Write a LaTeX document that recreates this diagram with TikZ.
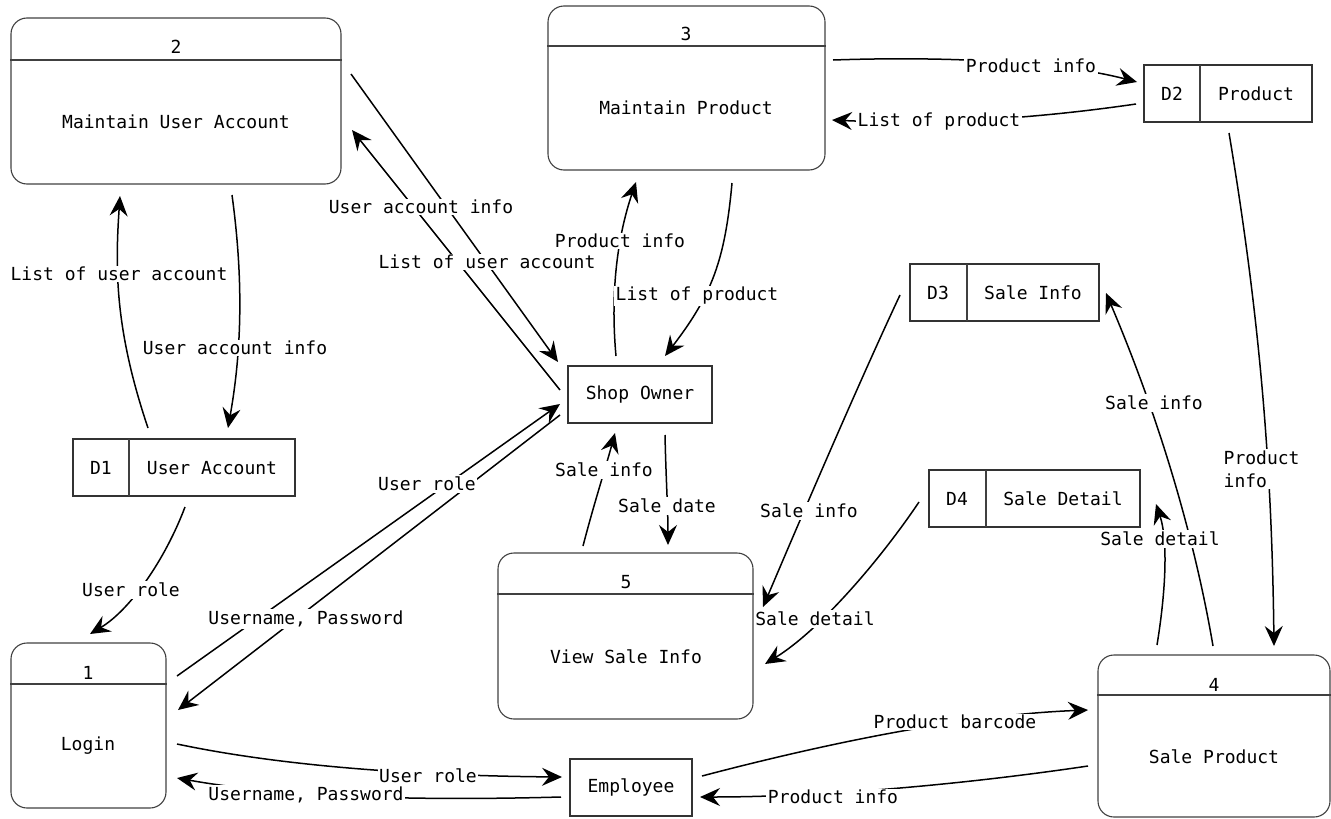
\documentclass[tikz,border=0pt]{standalone}
\usepackage{fontspec}
\setmainfont{DejaVu Sans Mono}
\usetikzlibrary{arrows.meta}
\tikzset{
  x=1pt, y=-1pt,
  every node/.style={font=\fontsize{18}{21}\selectfont, text=black},
  proc/.style={draw=black!75, line width=1.1pt, rounded corners=16pt, inner sep=0pt},
  store/.style={draw=black!80, line width=1.1pt, inner sep=0pt},
  ent/.style={draw=black!80, line width=1.1pt, inner sep=0pt},
  divline/.style={draw=black!75, line width=1.1pt},
  txt/.style={inner sep=0pt},
  flow/.style={draw=black, line width=1.5pt, -{Stealth[length=20pt,width=18pt,inset=7pt]}},
  lbl/.style={fill=white, inner sep=1.5pt},
}
\begin{document}
\begin{tikzpicture}
\useasboundingbox (0,0) rectangle (1331,819);

% ---------- processes ----------
\node[proc, minimum width=330pt, minimum height=166pt] (p2) at (176,101) {};
\draw[divline] (p2.west |- 0,60) -- (p2.east |- 0,60);
\node[txt] (p2n) at (176,47) {2};
\node[txt] (p2t) at (176,122) {Maintain User Account};

\node[proc, minimum width=277pt, minimum height=164pt] (p3) at (686.5,88) {};
\draw[divline] (p3.west |- 0,46) -- (p3.east |- 0,46);
\node[txt] (p3n) at (686,34) {3};
\node[txt] (p3t) at (686,108) {Maintain Product};

\node[proc, minimum width=155pt, minimum height=165pt] (p1) at (88.5,725.5) {};
\draw[divline] (p1.west |- 0,684) -- (p1.east |- 0,684);
\node[txt] (p1n) at (88,673) {1};
\node[txt] (p1t) at (88,746) {Login};

\node[proc, minimum width=255pt, minimum height=166pt] (p5) at (625.5,636) {};
\draw[divline] (p5.west |- 0,594) -- (p5.east |- 0,594);
\node[txt] (p5n) at (626,582) {5};
\node[txt] (p5t) at (626,657) {View Sale Info};

\node[proc, minimum width=232pt, minimum height=162pt] (p4) at (1214,736) {};
\draw[divline] (p4.west |- 0,695) -- (p4.east |- 0,695);
\node[txt] (p4n) at (1214,685) {4};
\node[txt] (p4t) at (1214,757) {Sale Product};

% ---------- data stores ----------
\node[store, minimum width=222pt, minimum height=57pt] (d1) at (184,467.5) {};
\draw[divline] (129,439) -- (129,496);
\node[txt] (d1n) at (101,468) {D1};
\node[txt] (d1t) at (212,468) {User Account};

\node[store, minimum width=168pt, minimum height=57pt] (d2) at (1228,93.5) {};
\draw[divline] (1200,65) -- (1200,122);
\node[txt] (d2n) at (1172,94) {D2};
\node[txt] (d2t) at (1256,94) {Product};

\node[store, minimum width=189pt, minimum height=57pt] (d3) at (1004.5,292.5) {};
\draw[divline] (967,264) -- (967,321);
\node[txt] (d3n) at (938,293) {D3};
\node[txt] (d3t) at (1033,293) {Sale Info};

\node[store, minimum width=211pt, minimum height=57pt] (d4) at (1034.5,498.5) {};
\draw[divline] (986,470) -- (986,527);
\node[txt] (d4n) at (957,499) {D4};
\node[txt] (d4t) at (1063,499) {Sale Detail};

% ---------- external entities ----------
\node[ent, minimum width=144pt, minimum height=57pt] (own) at (640,394.5) {Shop Owner};
\node[ent, minimum width=122pt, minimum height=57pt] (emp) at (631,787.5) {Employee};

% ---------- connector end points ----------
\coordinate (c1s) at (351,74);   \coordinate (c1e) at (558,362);
\coordinate (c2s) at (560,390);  \coordinate (c2e) at (352,130);
\coordinate (c3s) at (616,356);  \coordinate (c3e) at (636,182);
\coordinate (c4s) at (732,183);  \coordinate (c4e) at (665,356);
\coordinate (c5s) at (833,60);   \coordinate (c5e) at (1137,82);
\coordinate (c6s) at (1136,104); \coordinate (c6e) at (832,120);
\coordinate (c7s) at (1229,133); \coordinate (c7e) at (1274,646);
\coordinate (c8s) at (1213,646); \coordinate (c8e) at (1106,293);
\coordinate (c9s) at (1157,645); \coordinate (c9e) at (1156,504);
\coordinate (c10s) at (900,295); \coordinate (c10e) at (763,607);
\coordinate (c11s) at (919,502); \coordinate (c11e) at (765,664);
\coordinate (c12s) at (665,435); \coordinate (c12e) at (668,545);
\coordinate (c13s) at (583,546); \coordinate (c13e) at (615,433);
\coordinate (c14s) at (185,507); \coordinate (c14e) at (90,634);
\coordinate (c15s) at (232,195); \coordinate (c15e) at (228,428);
\coordinate (c16s) at (148,428); \coordinate (c16e) at (120,196);
\coordinate (c17s) at (177,676); \coordinate (c17e) at (560,404);
\coordinate (c18s) at (560,415); \coordinate (c18e) at (178,710);
\coordinate (c19s) at (177,744); \coordinate (c19e) at (562,777);
\coordinate (c20s) at (561,797); \coordinate (c20e) at (177,778);
\coordinate (c21s) at (702,776); \coordinate (c21e) at (1088,710);
\coordinate (c22s) at (1088,766); \coordinate (c22e) at (700,797);

% ---------- connectors ----------
\draw[flow] (c1s) -- (c1e);
\draw[flow] (c2s) -- (c2e);
\draw[flow] (c3s) .. controls (610,290) and (618,235) .. (c3e);
\draw[flow] (c4s) .. controls (725,260) and (712,295) .. (c4e);
\draw[flow] (c5s) .. controls (950,56) and (1060,62) .. (c5e);
\draw[flow] (c6s) .. controls (1040,118) and (940,125) .. (c6e);
\draw[flow] (c7s) .. controls (1262,330) and (1272,480) .. (c7e);
\draw[flow] (c8s) .. controls (1195,540) and (1160,420) .. (c8e);
\draw[flow] (c9s) .. controls (1166,590) and (1168,540) .. (c9e);
\draw[flow] (c10s) .. controls (860,380) and (800,520) .. (c10e);
\draw[flow] (c11s) .. controls (880,560) and (820,630) .. (c11e);
\draw[flow] (c12s) .. controls (666,480) and (668,510) .. (c12e);
\draw[flow] (c13s) .. controls (595,500) and (605,470) .. (c13e);
\draw[flow] (c14s) .. controls (165,560) and (130,610) .. (c14e);
\draw[flow] (c15s) .. controls (245,290) and (240,360) .. (c15e);
\draw[flow] (c16s) .. controls (115,330) and (115,270) .. (c16e);
\draw[flow] (c17s) -- (c17e);
\draw[flow] (c18s) -- (c18e);
\draw[flow] (c19s) .. controls (300,770) and (450,776) .. (c19e);
\draw[flow] (c20s) .. controls (450,800) and (300,800) .. (c20e);
\draw[flow] (c21s) .. controls (820,745) and (960,715) .. (c21e);
\draw[flow] (c22s) .. controls (960,785) and (820,797) .. (c22e);

% ---------- labels ----------
\node[lbl] (l2) at (421,207) {User account info};
\node[lbl] (l1) at (487,262) {List of user account};
\node[lbl] (l3) at (620,241) {Product info};
\node[lbl] (l4) at (697,296) {List of product};
\node[lbl] (l5) at (1031,66) {Product info};
\node[lbl] (l6) at (939,122) {List of product};
\node[lbl, anchor=west, align=left, font=\fontsize{18}{23}\selectfont] (l7) at (1222,469) {Product\\info};
\node[lbl] (l8) at (1154,403) {Sale info};
\node[lbl] (l9) at (1160,539) {Sale detail};
\node[lbl] (l10) at (809,511) {Sale info};
\node[lbl] (l11) at (815,619) {Sale detail};
\node[lbl] (l12) at (667,506) {Sale date};
\node[lbl] (l13) at (604,470) {Sale info};
\node[lbl] (l14) at (131,590) {User role};
\node[lbl] (l15) at (235,348) {User account info};
\node[lbl] (l16) at (119,274) {List of user account};
\node[lbl] (l17) at (427,484) {User role};
\node[lbl] (l18) at (306,619) {Username, Password};
\node[lbl] (l19) at (428,776) {User role};
\node[lbl] (l20) at (306,795) {Username, Password};
\node[lbl] (l21) at (955,722) {Product barcode};
\node[lbl] (l22) at (833,797) {Product info};
\end{tikzpicture}
\end{document}
